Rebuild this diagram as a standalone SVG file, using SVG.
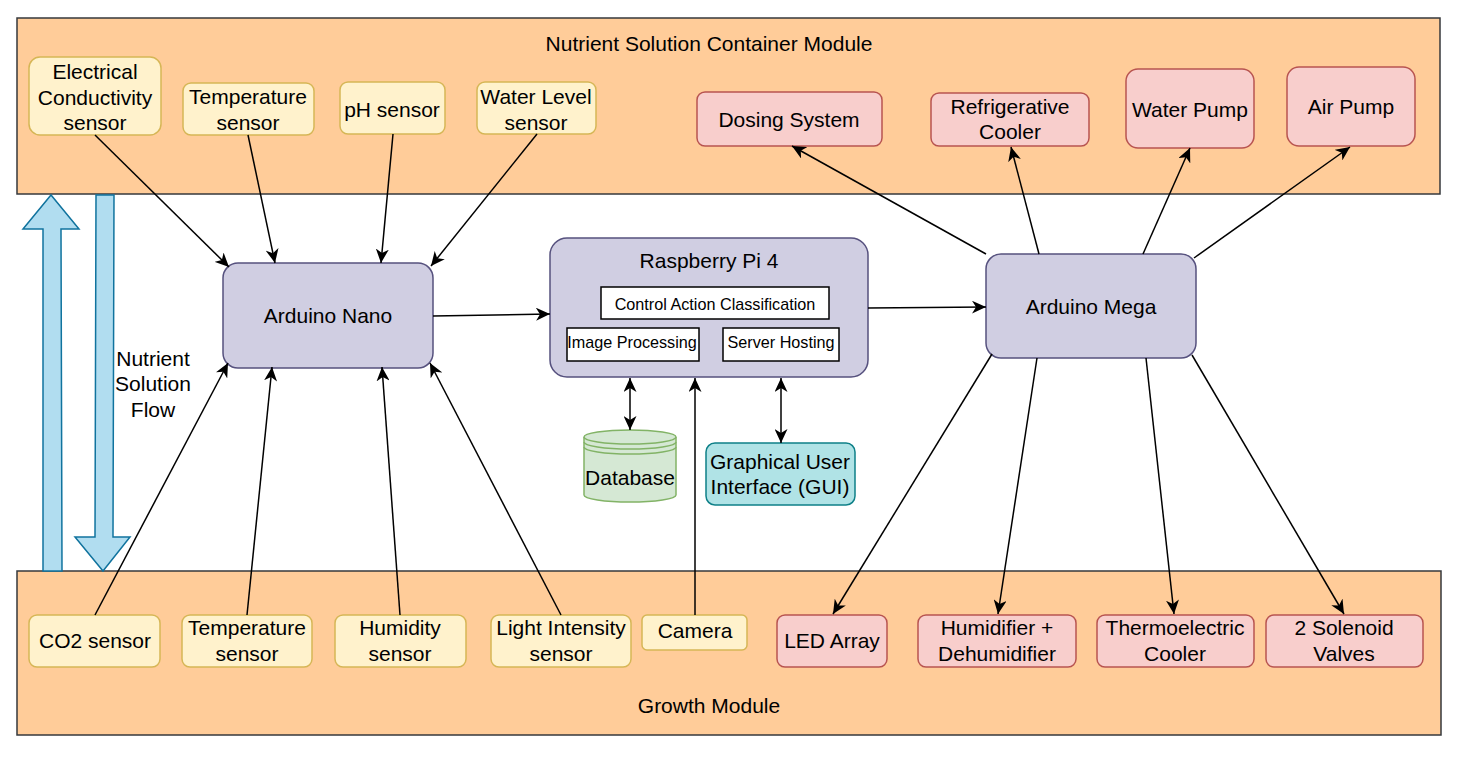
<svg xmlns="http://www.w3.org/2000/svg" width="1459" height="757" viewBox="0 0 1459 757">
<style>
text{font-family:"Liberation Sans",Arial,sans-serif;font-size:21px;fill:#000;text-anchor:middle}
.small{font-size:16.2px}
.module{fill:#ffcc99;stroke:#36393d;stroke-width:1.5}
.sensor{fill:#fff2cc;stroke:#d6b656;stroke-width:1.5}
.act{fill:#f8cecc;stroke:#b85450;stroke-width:1.5}
.ctrl{fill:#d0cee2;stroke:#56517e;stroke-width:1.5}
.inner{fill:#fff;stroke:#000;stroke-width:1.5}
.db{fill:#d5e8d4;stroke:#82b366;stroke-width:1.5}
.gui{fill:#b0e3e6;stroke:#0e8088;stroke-width:1.5}
.flow{fill:#b1ddf0;stroke:#10739e;stroke-width:1.5;stroke-linejoin:miter}
.conn line{stroke:#000;stroke-width:1.5;fill:none;marker-end:url(#ah)}
.conn line.both{marker-start:url(#ah)}
</style>
<defs>
<marker id="ah" markerUnits="userSpaceOnUse" markerWidth="15" markerHeight="13" viewBox="0 0 15 13" refX="14" refY="6.5" orient="auto-start-reverse">
<path d="M0,0 L14,6.5 L0,13 L4,6.5 z" fill="#000"/>
</marker>
</defs>
<rect width="1459" height="757" fill="#fff"/>

<g id="nutrient-module">
<rect class="module" x="17" y="18" width="1423" height="176"/>
<text x="709" y="51">Nutrient Solution Container Module</text>
</g>
<g id="growth-module">
<rect class="module" x="17" y="571" width="1424" height="164"/>
<text x="709" y="713">Growth Module</text>
</g>

<g id="flow-up"><polygon class="flow" points="43,571 43,229 23,229 51,195 79,229 61,229 62,571"/></g>
<g id="flow-down"><polygon class="flow" points="96,195 114,195 113,537 130,537 103,571 75,537 95,537"/></g>
<g id="flow-label">
<text x="153" y="366">Nutrient</text>
<text x="153" y="391">Solution</text>
<text x="153" y="417">Flow</text>
</g>

<g id="ec-sensor">
<rect class="sensor" x="29" y="57" width="132" height="78" rx="11"/>
<text x="95" y="79">Electrical</text><text x="95" y="104.5">Conductivity</text><text x="95" y="130">sensor</text>
</g>
<g id="temp-sensor-top">
<rect class="sensor" x="183" y="83" width="131" height="52" rx="8"/>
<text x="248" y="104">Temperature</text><text x="248" y="130">sensor</text>
</g>
<g id="ph-sensor">
<rect class="sensor" x="340" y="82" width="105" height="52" rx="8"/>
<text x="392" y="117">pH sensor</text>
</g>
<g id="water-level-sensor">
<rect class="sensor" x="477" y="82" width="119" height="52" rx="8"/>
<text x="536" y="104">Water Level</text><text x="536" y="130">sensor</text>
</g>

<g id="dosing-system">
<rect class="act" x="697" y="92" width="185" height="54" rx="8"/>
<text x="789" y="126.5">Dosing System</text>
</g>
<g id="refrigerative-cooler">
<rect class="act" x="931" y="93" width="158" height="53" rx="8"/>
<text x="1010" y="114">Refrigerative</text><text x="1010" y="139">Cooler</text>
</g>
<g id="water-pump">
<rect class="act" x="1126" y="69" width="128" height="79" rx="12"/>
<text x="1190" y="117">Water Pump</text>
</g>
<g id="air-pump">
<rect class="act" x="1287" y="67" width="128" height="79" rx="12"/>
<text x="1351" y="114">Air Pump</text>
</g>

<g id="arduino-nano">
<rect class="ctrl" x="223" y="263" width="210" height="105" rx="15"/>
<text x="328" y="323">Arduino Nano</text>
</g>
<g id="raspberry-pi">
<rect class="ctrl" x="550" y="238" width="318" height="139" rx="17"/>
<text x="709" y="268">Raspberry Pi 4</text>
<rect class="inner" x="601" y="287" width="228" height="32"/>
<text class="small" x="715" y="310">Control Action Classification</text>
<rect class="inner" x="567" y="328" width="132" height="33"/>
<text class="small" x="632" y="348">Image Processing</text>
<rect class="inner" x="723" y="328" width="116" height="33"/>
<text class="small" x="781" y="348">Server Hosting</text>
</g>
<g id="arduino-mega">
<rect class="ctrl" x="986" y="254" width="210" height="104" rx="15"/>
<text x="1091" y="314">Arduino Mega</text>
</g>

<g id="database">
<path class="db" d="M584,437 a46,7 0 0 1 92,0 v58 a46,7 0 0 1 -92,0 z"/>
<path class="db" d="M584,437 a46,7 0 0 0 92,0 M584,442 a46,7 0 0 0 92,0 M584,447 a46,7 0 0 0 92,0" fill="none"/>
<text x="630" y="485">Database</text>
</g>
<g id="gui">
<rect class="gui" x="706" y="443" width="149" height="62" rx="9"/>
<text x="780" y="468.5">Graphical User</text><text x="780" y="494">Interface (GUI)</text>
</g>

<g id="co2-sensor">
<rect class="sensor" x="29" y="615" width="131" height="52" rx="8"/>
<text x="95" y="648">CO2 sensor</text>
</g>
<g id="temp-sensor-bottom">
<rect class="sensor" x="182" y="615" width="130" height="52" rx="8"/>
<text x="247" y="635">Temperature</text><text x="247" y="661">sensor</text>
</g>
<g id="humidity-sensor">
<rect class="sensor" x="335" y="615" width="131" height="52" rx="8"/>
<text x="400" y="635">Humidity</text><text x="400" y="661">sensor</text>
</g>
<g id="light-sensor">
<rect class="sensor" x="491" y="615" width="140" height="52" rx="8"/>
<text x="561" y="635">Light Intensity</text><text x="561" y="661">sensor</text>
</g>
<g id="camera">
<rect class="sensor" x="642" y="615" width="105" height="35" rx="5"/>
<text x="695" y="638">Camera</text>
</g>
<g id="led-array">
<rect class="act" x="777" y="615" width="110" height="52" rx="8"/>
<text x="832" y="648">LED Array</text>
</g>
<g id="humidifier">
<rect class="act" x="918" y="615" width="158" height="52" rx="8"/>
<text x="997" y="635">Humidifier +</text><text x="997" y="661">Dehumidifier</text>
</g>
<g id="thermoelectric-cooler">
<rect class="act" x="1097" y="615" width="157" height="52" rx="8"/>
<text x="1175" y="635">Thermoelectric</text><text x="1175" y="661">Cooler</text>
</g>
<g id="solenoid-valves">
<rect class="act" x="1266" y="615" width="157" height="52" rx="8"/>
<text x="1344" y="635">2 Solenoid</text><text x="1344" y="661">Valves</text>
</g>

<g id="connectors" class="conn">
<line x1="95" y1="135" x2="229" y2="267"/>
<line x1="248" y1="135" x2="275" y2="263"/>
<line x1="393" y1="134" x2="381" y2="263"/>
<line x1="537" y1="134" x2="431" y2="266"/>
<line x1="95" y1="615" x2="228" y2="363"/>
<line x1="247" y1="615" x2="272" y2="367"/>
<line x1="400" y1="615" x2="382" y2="367"/>
<line x1="561" y1="615" x2="430" y2="363"/>
<line x1="695" y1="615" x2="695" y2="378"/>
<line x1="433" y1="316" x2="550" y2="314"/>
<line x1="868" y1="308" x2="986" y2="307"/>
<line class="both" x1="630" y1="378" x2="630" y2="430"/>
<line class="both" x1="781" y1="378" x2="781" y2="443"/>
<line x1="986" y1="254" x2="792" y2="146"/>
<line x1="1039" y1="254" x2="1011" y2="147"/>
<line x1="1143" y1="254" x2="1190" y2="148"/>
<line x1="1194" y1="258" x2="1350" y2="147"/>
<line x1="992" y1="354" x2="833" y2="614"/>
<line x1="1037" y1="358" x2="998" y2="614"/>
<line x1="1146" y1="358" x2="1174" y2="614"/>
<line x1="1192" y1="355" x2="1344" y2="614"/>
</g>
</svg>
